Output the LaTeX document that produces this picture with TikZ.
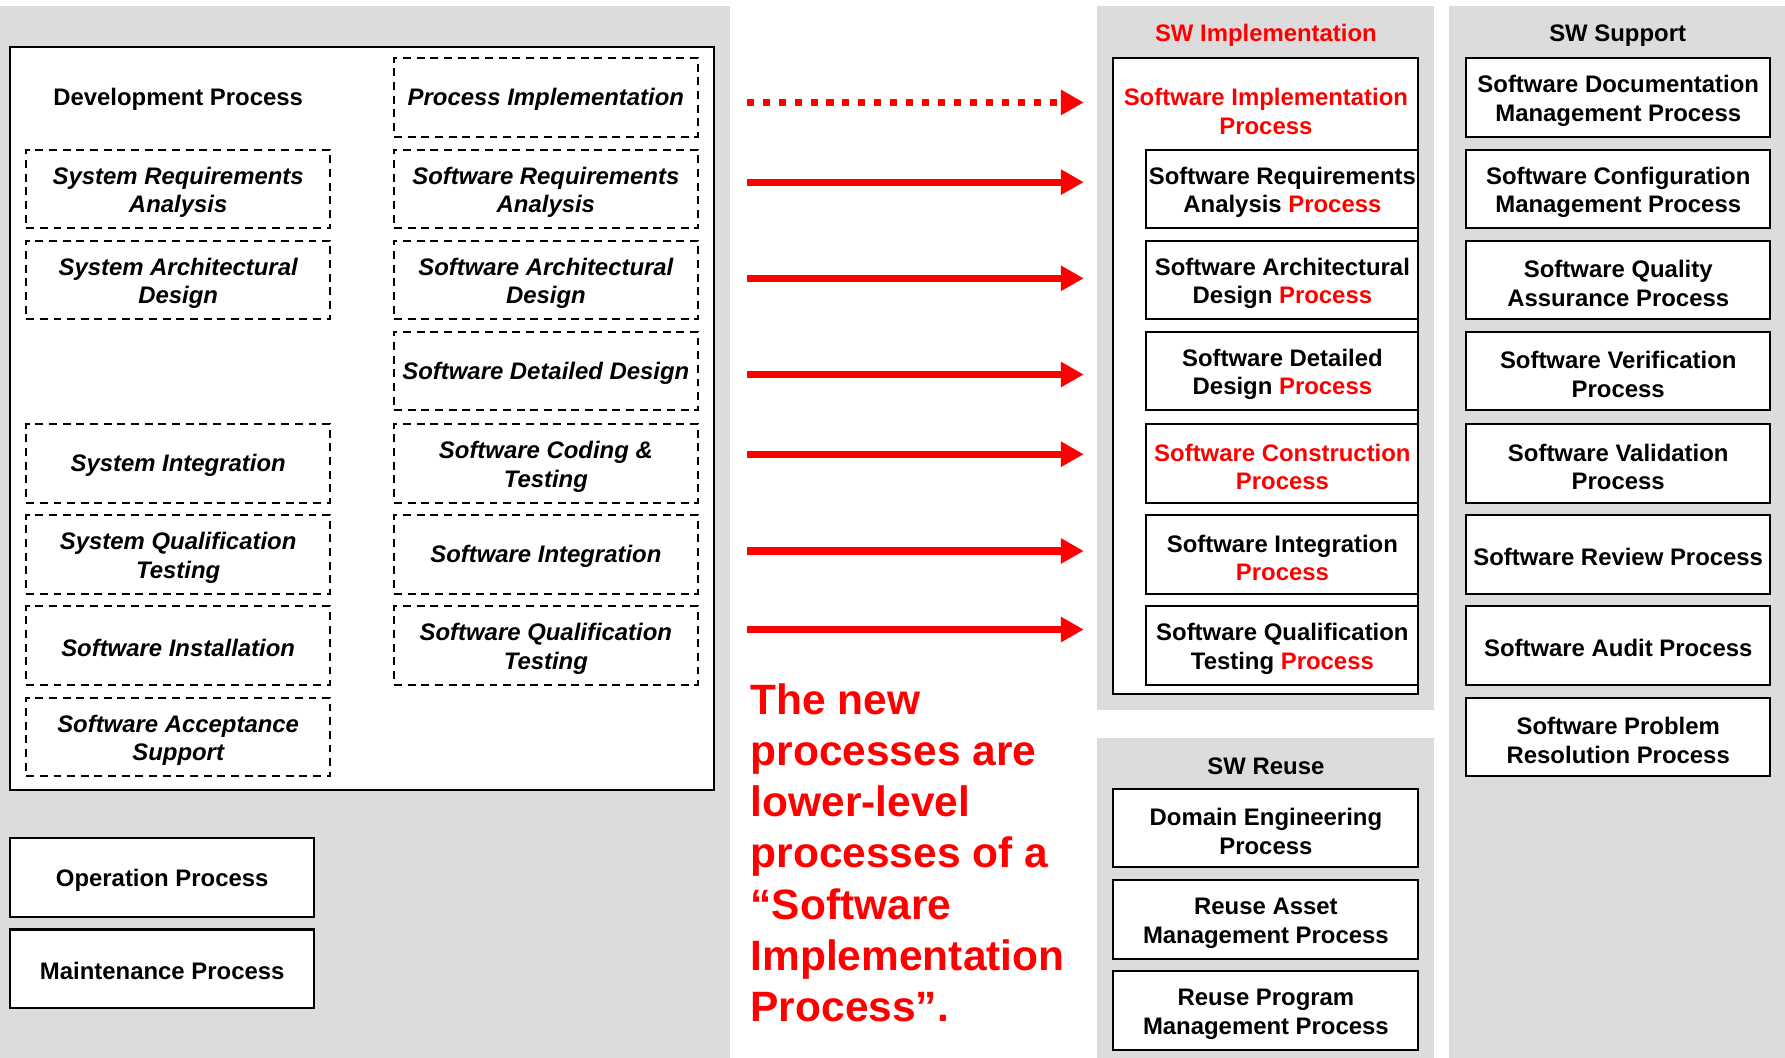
\documentclass[tikz,border=0pt]{standalone}
\usepackage{fontspec}
\setmainfont{Liberation Sans}
\usetikzlibrary{arrows.meta}
\definecolor{panelgray}{RGB}{220,220,220}
\newcommand{\stOne}{\rule{0pt}{9.7pt}}
\newcommand{\stTwo}{\rule{0pt}{10.6pt}}
\begin{document}
\begin{tikzpicture}[x=0.5pt,y=-0.5pt,
  txt/.style={font=\bfseries\fontsize{10.5}{12.5}\selectfont, align=center, inner sep=0pt},
  solidbox/.style={txt, draw=black, line width=0.9pt, fill=white, minimum width=133.5pt, minimum height=34.5pt},
  dashbox/.style={txt, font=\bfseries\itshape\fontsize{10.5}{12.5}\selectfont, draw=black, line width=0.8pt, dash pattern=on 3.5pt off 2.5pt, fill=white, minimum width=133.5pt, minimum height=34.5pt},
  subbox/.style={solidbox, minimum width=119.5pt},
  reusebox/.style={solidbox, minimum width=134pt},
  panel/.style={fill=panelgray, draw=none},
  redarrow/.style={draw=red, line width=3.1pt, -{Triangle[length=10pt,width=10.5pt]}},
]
\useasboundingbox (0,0) rectangle (1568,929);
\fill[white] (0,0) rectangle (1568,929);
% gray panels
\path[panel] (0,5) rectangle (641,929);
\path[panel] (964,5) rectangle (1260,624);
\path[panel] (964,648) rectangle (1260,929);
\path[panel] (1273,5) rectangle (1568,929);

% Development process
\node[draw=black, line width=0.9pt, fill=white, minimum width=309pt, minimum height=326.5pt, inner sep=0pt] (devbox) at (318,367.5) {};
\node[txt] (devtitle) at (156.5,85.5) {\stOne Development Process};
\node[dashbox] (pi) at (479.5,85.5) {\stOne Process Implementation};
\node[dashbox] (sra) at (156.5,166) {\stTwo System Requirements\\Analysis};
\node[dashbox] (swra) at (479.5,166) {\stTwo Software Requirements\\Analysis};
\node[dashbox] (sad) at (156.5,246) {\stTwo System Architectural\\Design};
\node[dashbox] (swad) at (479.5,246) {\stTwo Software Architectural\\Design};
\node[dashbox] (swdd) at (479.5,326) {\stOne Software Detailed Design};
\node[dashbox] (si) at (156.5,407) {\stOne System Integration};
\node[dashbox] (swct) at (479.5,407) {\stTwo Software Coding \&\\Testing};
\node[dashbox] (sqt) at (156.5,487) {\stTwo System Qualification\\Testing};
\node[dashbox] (swi) at (479.5,487) {\stOne Software Integration};
\node[dashbox] (swin) at (156.5,567) {\stOne Software Installation};
\node[dashbox] (swqt) at (479.5,567) {\stTwo Software Qualification\\Testing};
\node[dashbox] (swas) at (156.5,647.5) {\stTwo Software Acceptance\\Support};

\node[solidbox] (op) at (142.5,771) {\stOne Operation Process};
\node[solidbox] (mp) at (142.5,851) {\stOne Maintenance Process};

% SW Implementation
\node[txt, text=red] (impltitle) at (1112,29) {\stOne SW Implementation};
\node[draw=black, line width=0.9pt, fill=white, minimum width=134pt, minimum height=279.5pt, inner sep=0pt] (implbox) at (1112,330.5) {};
\node[txt, text=red] (implproc) at (1112,95) {\stTwo Software Implementation\\Process};
\node[subbox] (ira) at (1126.5,166) {\stTwo Software Requirements\\Analysis \textcolor{red}{Process}};
\node[subbox] (iad) at (1126.5,246) {\stTwo Software Architectural\\Design \textcolor{red}{Process}};
\node[subbox] (idd) at (1126.5,326) {\stTwo Software Detailed\\Design \textcolor{red}{Process}};
\node[subbox, text=red] (icp) at (1126.5,407) {\stTwo Software Construction\\Process};
\node[subbox] (iip) at (1126.5,487) {\stTwo Software Integration\\\textcolor{red}{Process}};
\node[subbox] (iqt) at (1126.5,567) {\stTwo Software Qualification\\Testing \textcolor{red}{Process}};

% SW Reuse
\node[txt] (reusetitle) at (1112,671) {\stOne SW Reuse};
\node[reusebox] (dep) at (1112,727.5) {\stTwo Domain Engineering\\Process};
\node[reusebox] (ram) at (1112,807.5) {\stTwo Reuse Asset\\Management Process};
\node[reusebox] (rpm) at (1112,887.5) {\stTwo Reuse Program\\Management Process};

% SW Support
\node[txt] (supptitle) at (1421,29) {\stOne SW Support};
\node[solidbox] (s1) at (1421.5,85.5) {\stTwo Software Documentation\\Management Process};
\node[solidbox] (s2) at (1421.5,166) {\stTwo Software Configuration\\Management Process};
\node[solidbox] (s3) at (1421.5,246) {\stTwo Software Quality\\Assurance Process};
\node[solidbox] (s4) at (1421.5,326) {\stTwo Software Verification\\Process};
\node[solidbox] (s5) at (1421.5,407) {\stTwo Software Validation\\Process};
\node[solidbox] (s6) at (1421.5,487) {\stOne Software Review Process};
\node[solidbox] (s7) at (1421.5,567) {\stOne Software Audit Process};
\node[solidbox] (s8) at (1421.5,647.5) {\stTwo Software Problem\\Resolution Process};

% arrows
\coordinate (a1s) at (656,90);    \coordinate (a1e) at (952,90);
\coordinate (a2s) at (656,160);   \coordinate (a2e) at (952,160);
\coordinate (a3s) at (656,244.5); \coordinate (a3e) at (952,244.5);
\coordinate (a4s) at (656,329);   \coordinate (a4e) at (952,329);
\coordinate (a5s) at (656,399);   \coordinate (a5e) at (952,399);
\coordinate (a6s) at (656,484);   \coordinate (a6e) at (952,484);
\coordinate (a7s) at (656,553);   \coordinate (a7e) at (952,553);
\draw[redarrow, dash pattern=on 3.1pt off 3.9pt] (a1s) -- (a1e);
\draw[redarrow] (a2s) -- (a2e);
\draw[redarrow] (a3s) -- (a3e);
\draw[redarrow] (a4s) -- (a4e);
\draw[redarrow] (a5s) -- (a5e);
\draw[redarrow] (a6s) -- (a6e);
\draw[redarrow] (a7s) -- (a7e);

% note
\node[font=\bfseries\fontsize{18.65}{22.5}\selectfont, text=red, align=left, anchor=north west, inner sep=0pt] (note) at (659,600) {The new\\processes are\\lower-level\\processes of a\\“Software\\Implementation\\Process”.};
\end{tikzpicture}
\end{document}
